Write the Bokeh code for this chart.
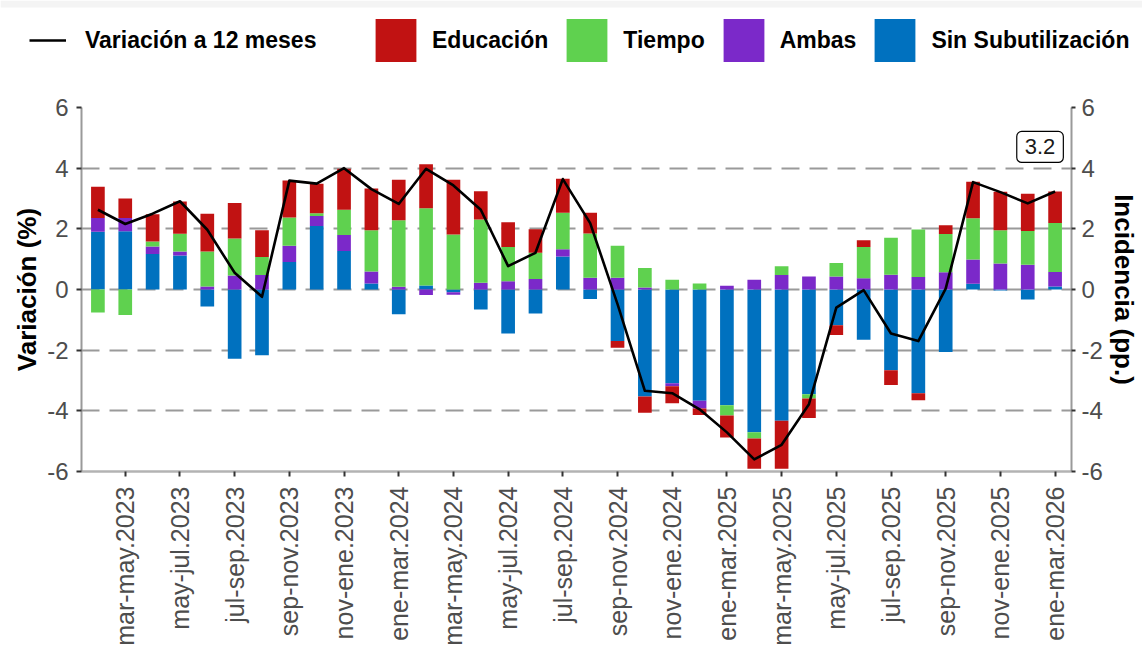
import numpy as np
from bokeh.plotting import figure
from bokeh.layouts import column
from bokeh.models import (ColumnDataSource, Range1d, LinearAxis, FixedTicker,
                          Legend, LegendItem, Label, BoxAnnotation)
from bokeh.embed import file_html
from bokeh.resources import INLINE

# ---------------- data ----------------
periods = ["feb-abr.2023", "mar-may.2023", "abr-jun.2023", "may-jul.2023", "jun-ago.2023",
           "jul-sep.2023", "ago-oct.2023", "sep-nov.2023", "oct-dic.2023", "nov-ene.2023",
           "dic-feb.2023", "ene-mar.2024", "feb-abr.2024", "mar-may.2024", "abr-jun.2024",
           "may-jul.2024", "jun-ago.2024", "jul-sep.2024", "ago-oct.2024", "sep-nov.2024",
           "oct-dic.2024", "nov-ene.2024", "dic-feb.2024", "ene-mar.2025", "feb-abr.2025",
           "mar-may.2025", "abr-jun.2025", "may-jul.2025", "jun-ago.2025", "jul-sep.2025",
           "ago-oct.2025", "sep-nov.2025", "oct-dic.2025", "nov-ene.2025", "dic-feb.2025",
           "ene-mar.2026"]

sin_subutilizacion = [1.90, 1.92, 1.17, 1.12, -0.56, -2.28, -2.17, 0.91, 2.09, 1.27,
                      0.20, -0.82, 0.13, -0.09, -0.66, -1.45, -0.79, 1.09, -0.31, -1.70,
                      -3.53, -3.09, -3.67, -3.82, -4.71, -4.33, -3.45, -1.18, -1.66, -2.66,
                      -3.42, -2.06, 0.19, -0.03, -0.33, 0.10]
ambas = [0.46, 0.44, 0.25, 0.13, 0.10, 0.46, 0.48, 0.53, 0.33, 0.53,
         0.39, 0.09, -0.18, -0.08, 0.22, 0.27, 0.35, 0.24, 0.39, 0.39,
         0.07, -0.10, -0.25, 0.12, 0.32, 0.48, 0.43, 0.43, 0.37, 0.49,
         0.41, 0.57, 0.80, 0.86, 0.82, 0.48]
tiempo = [-0.76, -0.84, 0.16, 0.59, 1.15, 1.22, 0.59, 0.93, 0.09, 0.83,
          1.36, 2.19, 2.55, 1.81, 2.09, 1.13, 0.86, 1.20, 1.46, 1.05,
          0.64, 0.32, 0.20, -0.33, -0.20, 0.29, -0.14, 0.44, 1.03, 1.22,
          1.57, 1.26, 1.36, 1.09, 1.11, 1.61]
educacion = [1.03, 0.64, 0.90, 1.06, 1.25, 1.17, 0.88, 1.22, 0.98, 1.35,
             1.38, 1.34, 1.45, 1.81, 0.93, 0.82, 0.78, 1.12, 0.68, -0.22,
             -0.53, -0.56, -0.22, -0.73, -1.00, -1.58, -0.65, -0.32, 0.22, -0.49,
             -0.23, 0.29, 1.20, 1.27, 1.23, 1.04]
variacion = [2.63, 2.16, 2.50, 2.91, 1.97, 0.55, -0.24, 3.59, 3.49, 4.00,
             3.31, 2.82, 3.98, 3.43, 2.63, 0.77, 1.21, 3.64, 2.19, -0.48,
             -3.34, -3.42, -3.95, -4.71, -5.60, -5.12, -3.78, -0.60, -0.02, -1.45,
             -1.70, 0.03, 3.54, 3.21, 2.84, 3.23]

y_ticks = [-6, -4, -2, 0, 2, 4, 6]

series = [
    ("Sin Subutilización", sin_subutilizacion, "#0071BF"),
    ("Ambas", ambas, "#7B29C9"),
    ("Tiempo", tiempo, "#5FD14F"),
    ("Educación", educacion, "#C11212"),
]
legend_order = ["Educación", "Tiempo", "Ambas", "Sin Subutilización"]
line_name = "Variación a 12 meses"

FONT = "Liberation Sans"
n = len(periods)
x = list(range(n))
colors = {name: c for name, _, c in series}

W = 1142
H_LEG = 90
H_MAIN = 563

# ---------------- main chart ----------------
p = figure(width=W, height=H_MAIN,
           x_range=Range1d(-0.6, n - 1 + 0.6), y_range=Range1d(-6, 6),
           output_backend="svg", toolbar_location=None,
           min_border_left=81, min_border_right=71,
           min_border_top=17, min_border_bottom=182)
p.outline_line_color = None
p.frame_align = False

p.xgrid.visible = False
p.ygrid.ticker = FixedTicker(ticks=y_ticks)
p.ygrid.grid_line_color = "#9a9a9a"
p.ygrid.grid_line_width = 2.2
p.ygrid.grid_line_dash = "18 10"

pos = np.zeros(n)
neg = np.zeros(n)
for name, vals, color in series:
    v = np.array(vals, dtype=float)
    bottom = np.where(v >= 0, pos, neg)
    top = bottom + v
    pos = np.where(v >= 0, top, pos)
    neg = np.where(v < 0, top, neg)
    src = ColumnDataSource(dict(x=x, bottom=bottom, top=top))
    p.vbar(x="x", bottom="bottom", top="top", width=0.5, source=src,
           fill_color=color, line_color=None)

line_src = ColumnDataSource(dict(x=x, y=variacion))
p.line(x="x", y="y", source=line_src, line_color="black", line_width=2.6,
       line_join="round")

xa = p.xaxis[0]
lab_idx = x[1::2]
xa.ticker = FixedTicker(ticks=lab_idx)
xa.major_label_overrides = {i: periods[i] for i in lab_idx}
xa.major_label_orientation = np.pi / 2
xa.major_label_text_font = FONT
xa.major_label_text_font_size = "25px"
xa.major_label_text_color = "#4d4d4d"
xa.major_label_standoff = 10
xa.axis_line_color = "#b3b3b3"
xa.axis_line_width = 2.5
xa.major_tick_line_color = "#333333"
xa.major_tick_line_width = 2
xa.major_tick_out = 5
xa.major_tick_in = 0
xa.minor_tick_out = 0
xa.minor_tick_line_color = None

ya = p.yaxis[0]
ya.axis_label = "Variación (%)"
p.extra_y_ranges = {"r": Range1d(-6, 6)}
yr = LinearAxis(y_range_name="r", axis_label="Incidencia (pp.)")
p.add_layout(yr, "right")

for ax in (ya, yr):
    ax.ticker = FixedTicker(ticks=y_ticks)
    ax.major_label_overrides = {t: str(t) for t in y_ticks}
    ax.major_label_text_font = FONT
    ax.major_label_text_font_size = "24px"
    ax.major_label_text_color = "#4d4d4d"
    ax.axis_line_color = "#9a9a9a"
    ax.axis_line_width = 2
    ax.major_tick_line_color = "#333333"
    ax.major_tick_line_width = 2
    ax.major_tick_in = 0
    ax.minor_tick_out = 0
    ax.minor_tick_in = 0
    ax.minor_tick_line_color = None
    ax.axis_label_text_font = FONT
    ax.axis_label_text_font_style = "bold"
    ax.axis_label_text_font_size = "26px"
    ax.axis_label_text_color = "black"
ya.major_tick_out = 5
ya.major_label_standoff = 8
ya.axis_label_standoff = 2
yr.major_tick_out = 4
yr.major_label_standoff = 6
yr.axis_label_standoff = 3

last = Label(x=n - 1 - 0.55, y=4.7, text=f"{variacion[-1]:.1f}",
             text_align="center", text_baseline="middle",
             text_font=FONT, text_font_size="22px", text_color="#1a1a1a",
             border_line_color="black", border_line_width=1.2,
             background_fill_color="white", border_radius=5, padding=8)
p.add_layout(last)

# ---------------- legend strip ----------------
lg = figure(width=W, height=H_LEG, x_range=Range1d(0, 1), y_range=Range1d(0, 1),
            output_backend="svg", toolbar_location=None, min_border=0,
            x_axis_location=None, y_axis_location=None)
lg.outline_line_color = None
lg.grid.visible = False
lg.frame_align = False

# thin light-grey band along the top edge of the page
lg.add_layout(BoxAnnotation(bottom=1 - 7 / H_LEG, fill_color="#f4f4f4", fill_alpha=1,
                            line_color=None, level="underlay"))

# key renderers: one point each, placed outside the visible range
line_key = lg.line(x=[-10, -9], y=[-10, -10], line_color="black", line_width=2.6)
bar_keys = {name: lg.vbar(x=[-10], top=[-10], width=0.5, fill_color=colors[name],
                          line_color=None)
            for name in legend_order}


def style_legend(leg):
    leg.orientation = "horizontal"
    leg.padding = 0
    leg.margin = 0
    leg.border_line_color = None
    leg.background_fill_alpha = 0
    leg.label_text_font = FONT
    leg.label_text_font_style = "bold"
    leg.label_text_font_size = "23px"
    leg.label_text_color = "black"
    leg.glyph_height = 54
    leg.label_height = 54


leg1 = Legend(items=[LegendItem(label=line_name, renderers=[line_key])], location=(29, 23))
style_legend(leg1)
leg1.glyph_width = 37
leg1.label_standoff = 19
lg.add_layout(leg1)

leg2 = Legend(items=[LegendItem(label=name, renderers=[bar_keys[name]]) for name in legend_order],
              location=(370, 23))
style_legend(leg2)
leg2.glyph_width = 51
leg2.label_standoff = 11
leg2.spacing = 13
lg.add_layout(leg2)

layout = column(lg, p, spacing=0)

open("out.html", "w").write(file_html(layout, INLINE))
